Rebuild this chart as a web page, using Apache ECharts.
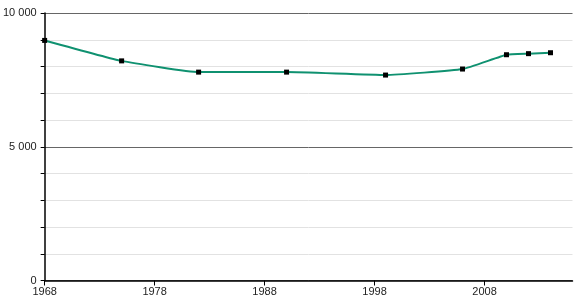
<!DOCTYPE html>
<html><head><meta charset="utf-8">
<script src="https://cdn.jsdelivr.net/npm/echarts@6/dist/echarts.min.js"></script>
<style>html,body{margin:0;padding:0;background:#fff}#c{width:580px;height:300px}</style>
</head><body><div id="c"></div>
<script>
const years = [1968, 1975, 1982, 1990, 1999, 2006, 2010, 2012, 2014];
const population = [8975, 8210, 7790, 7790, 7680, 7905, 8440, 8480, 8515];
const xTickLabels = [1968, 1978, 1988, 1998, 2008];
const yTickLabels = [0, 5000, 10000];

const chart = echarts.init(document.getElementById('c'), null, {renderer: 'canvas'});
const fmt = v => String(v).replace(/\B(?=(\d{3})+(?!\d))/g, ' ');
chart.setOption({
  animation: false,
  grid: {left: 42.5, right: 7.5, top: 13, bottom: 19.5, containLabel: false},
  xAxis: {
    type: 'value', min: 1968, max: 2016, interval: 10,
    axisLine: {lineStyle: {color: '#000', width: 1.5}},
    axisTick: {show: true, length: 5, customValues: xTickLabels, lineStyle: {color: '#000'}},
    axisLabel: {customValues: xTickLabels, color: '#222', fontFamily: 'Liberation Sans, Arial, sans-serif', fontSize: 11, margin: 6, formatter: v => String(v)},
    splitLine: {show: false}
  },
  yAxis: {
    type: 'value', min: 0, max: 10000, interval: 1000,
    axisLine: {show: true, lineStyle: {color: '#000', width: 1.5}},
    axisTick: {show: true, length: 4, lineStyle: {color: '#000'}},
    axisLabel: {color: '#222', fontFamily: 'Liberation Sans, Arial, sans-serif', fontSize: 11, margin: 8,
      formatter: v => yTickLabels.includes(v) ? fmt(v) : ''},
    splitLine: {show: true, lineStyle: {color: ['#666', '#e2e2e2', '#e2e2e2', '#e2e2e2', '#e2e2e2'], width: 1}}
  },
  series: [{
    type: 'line',
    data: years.map((y, i) => [y, population[i]]),
    smooth: 0.12,
    symbol: 'rect', symbolSize: 5,
    itemStyle: {color: '#000'},
    lineStyle: {color: '#0f9170', width: 2},
    z: 3
  }]
});
</script></body></html>
